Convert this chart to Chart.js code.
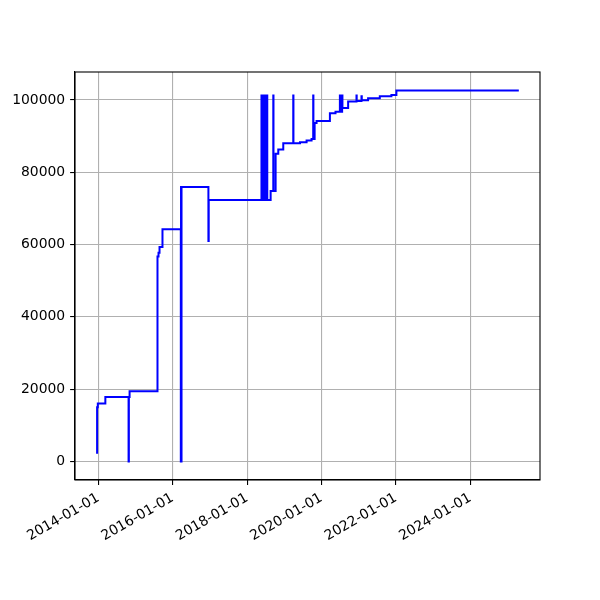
<!DOCTYPE html>
<html>
<head>
<meta charset="utf-8">
<script src="https://cdn.jsdelivr.net/npm/chart.js@4/dist/chart.umd.min.js"></script>
<style>
html,body{margin:0;padding:0;background:#fff;}
#wrap{width:600px;height:600px;}
</style>
</head>
<body>
<div id="wrap"><canvas id="c" width="600" height="600"></canvas></div>
<script>
// ---- data ----
const dates = [
  '2013-12-10','2013-12-20','2013-12-27','2014-03-11','2014-10-25','2014-10-28','2014-11-04',
  '2015-08-05','2015-08-15','2015-08-25','2015-09-23',
  '2016-03-21','2016-03-23','2016-03-26','2016-03-28','2016-12-17','2016-12-20',
  '2018-05-22','2018-05-25','2018-05-28','2018-05-31','2018-06-03','2018-06-06','2018-06-09','2018-06-12',
  '2018-06-15','2018-06-18','2018-06-21','2018-06-24','2018-06-27','2018-06-30','2018-07-03','2018-07-06',
  '2018-07-09','2018-07-12','2018-07-15','2018-07-18',
  '2018-08-20','2018-09-15','2018-09-17','2018-10-08','2018-11-03','2018-12-22',
  '2019-03-30','2019-04-01','2019-06-04','2019-08-08','2019-09-26','2019-10-12','2019-10-14','2019-10-26','2019-11-14',
  '2020-03-24','2020-05-18','2020-06-30','2020-07-03','2020-07-08','2020-07-11','2020-07-16','2020-07-19','2020-07-22','2020-07-25',
  '2020-09-19','2020-12-10','2020-12-12','2021-01-28','2021-01-31','2021-04-03','2021-07-27','2021-11-18',
  '2022-01-06','2025-04-22'
];
const values = [
  2400,15000,16000,17800,0,17800,19450,
  56700,57700,59300,64200,
  0,75900,0,75900,61000,72300,
  101200,72300,101200,72300,101200,72300,101200,72300,
  101200,72300,101200,72300,101200,72300,101200,72300,
  101200,72300,101200,72300,
  74800,101200,74800,85100,86300,88000,
  101200,88000,88300,88800,89200,101200,89200,93600,94200,
  96300,96700,101200,96700,101200,96700,101200,96700,101200,97800,
  99600,101200,99700,101000,99900,100500,101000,101400,
  102600,102600
];
const xTickYears = [2014,2016,2018,2020,2022,2024];
const yTickValues = [0,20000,40000,60000,80000,100000];
const xMin = '2013-05-17', xMax = '2025-11-16';
const yMin = -5130, yMax = 107730;

// ---- chart ----
const pts = dates.map((d,i)=>({x: Date.parse(d), y: values[i]}));
const FONT = {family: 'DejaVu Sans', size: 13.9};
const frame = {
  id:'frame',
  afterDatasetsDraw(chart){
    const a = chart.chartArea, ctx = chart.ctx;
    ctx.save();
    ctx.strokeStyle = '#000'; ctx.lineWidth = 1.1;
    ctx.strokeRect(a.left, a.top, a.right-a.left, a.bottom-a.top);
    ctx.restore();
  }
};
new Chart(document.getElementById('c'), {
  type: 'line',
  data: { datasets: [{
    data: pts, borderColor: '#0000ff', borderWidth: 2, pointRadius: 0,
    stepped: 'before', fill: false, tension: 0
  }]},
  options: {
    responsive: false, animation: false, devicePixelRatio: 1,
    layout: { padding: {left: 0, top: 72, right: 60, bottom: 0} },
    plugins: { legend: {display:false}, tooltip: {enabled:false} },
    scales: {
      x: {
        type: 'linear', min: Date.parse(xMin), max: Date.parse(xMax),
        afterBuildTicks(s){ s.ticks = xTickYears.map(y=>({value: Date.UTC(y,0,1)})); },
        afterFit(s){ s.height = 120; },
        ticks: {
          autoSkip: false, minRotation: 30, maxRotation: 30, padding: 4.9,
          color: '#000', font: FONT,
          callback(v){ return new Date(v).toISOString().slice(0,10); }
        },
        grid: { color: '#b0b0b0', lineWidth: 1.1, tickLength: 4.9, tickColor: '#000', tickWidth: 1.1 },
        border: { display: true, color: '#000', width: 1.1 }
      },
      y: {
        type: 'linear', min: yMin, max: yMax,
        afterBuildTicks(s){ s.ticks = yTickValues.map(v=>({value: v})); },
        afterFit(s){ s.width = 75; },
        ticks: { padding: 4.9, color: '#000', font: FONT, callback(v){ return String(v); } },
        grid: { color: '#b0b0b0', lineWidth: 1.1, tickLength: 4.9, tickColor: '#000', tickWidth: 1.1 },
        border: { display: true, color: '#000', width: 1.1 }
      }
    }
  },
  plugins: [frame]
});
</script>
</body>
</html>
